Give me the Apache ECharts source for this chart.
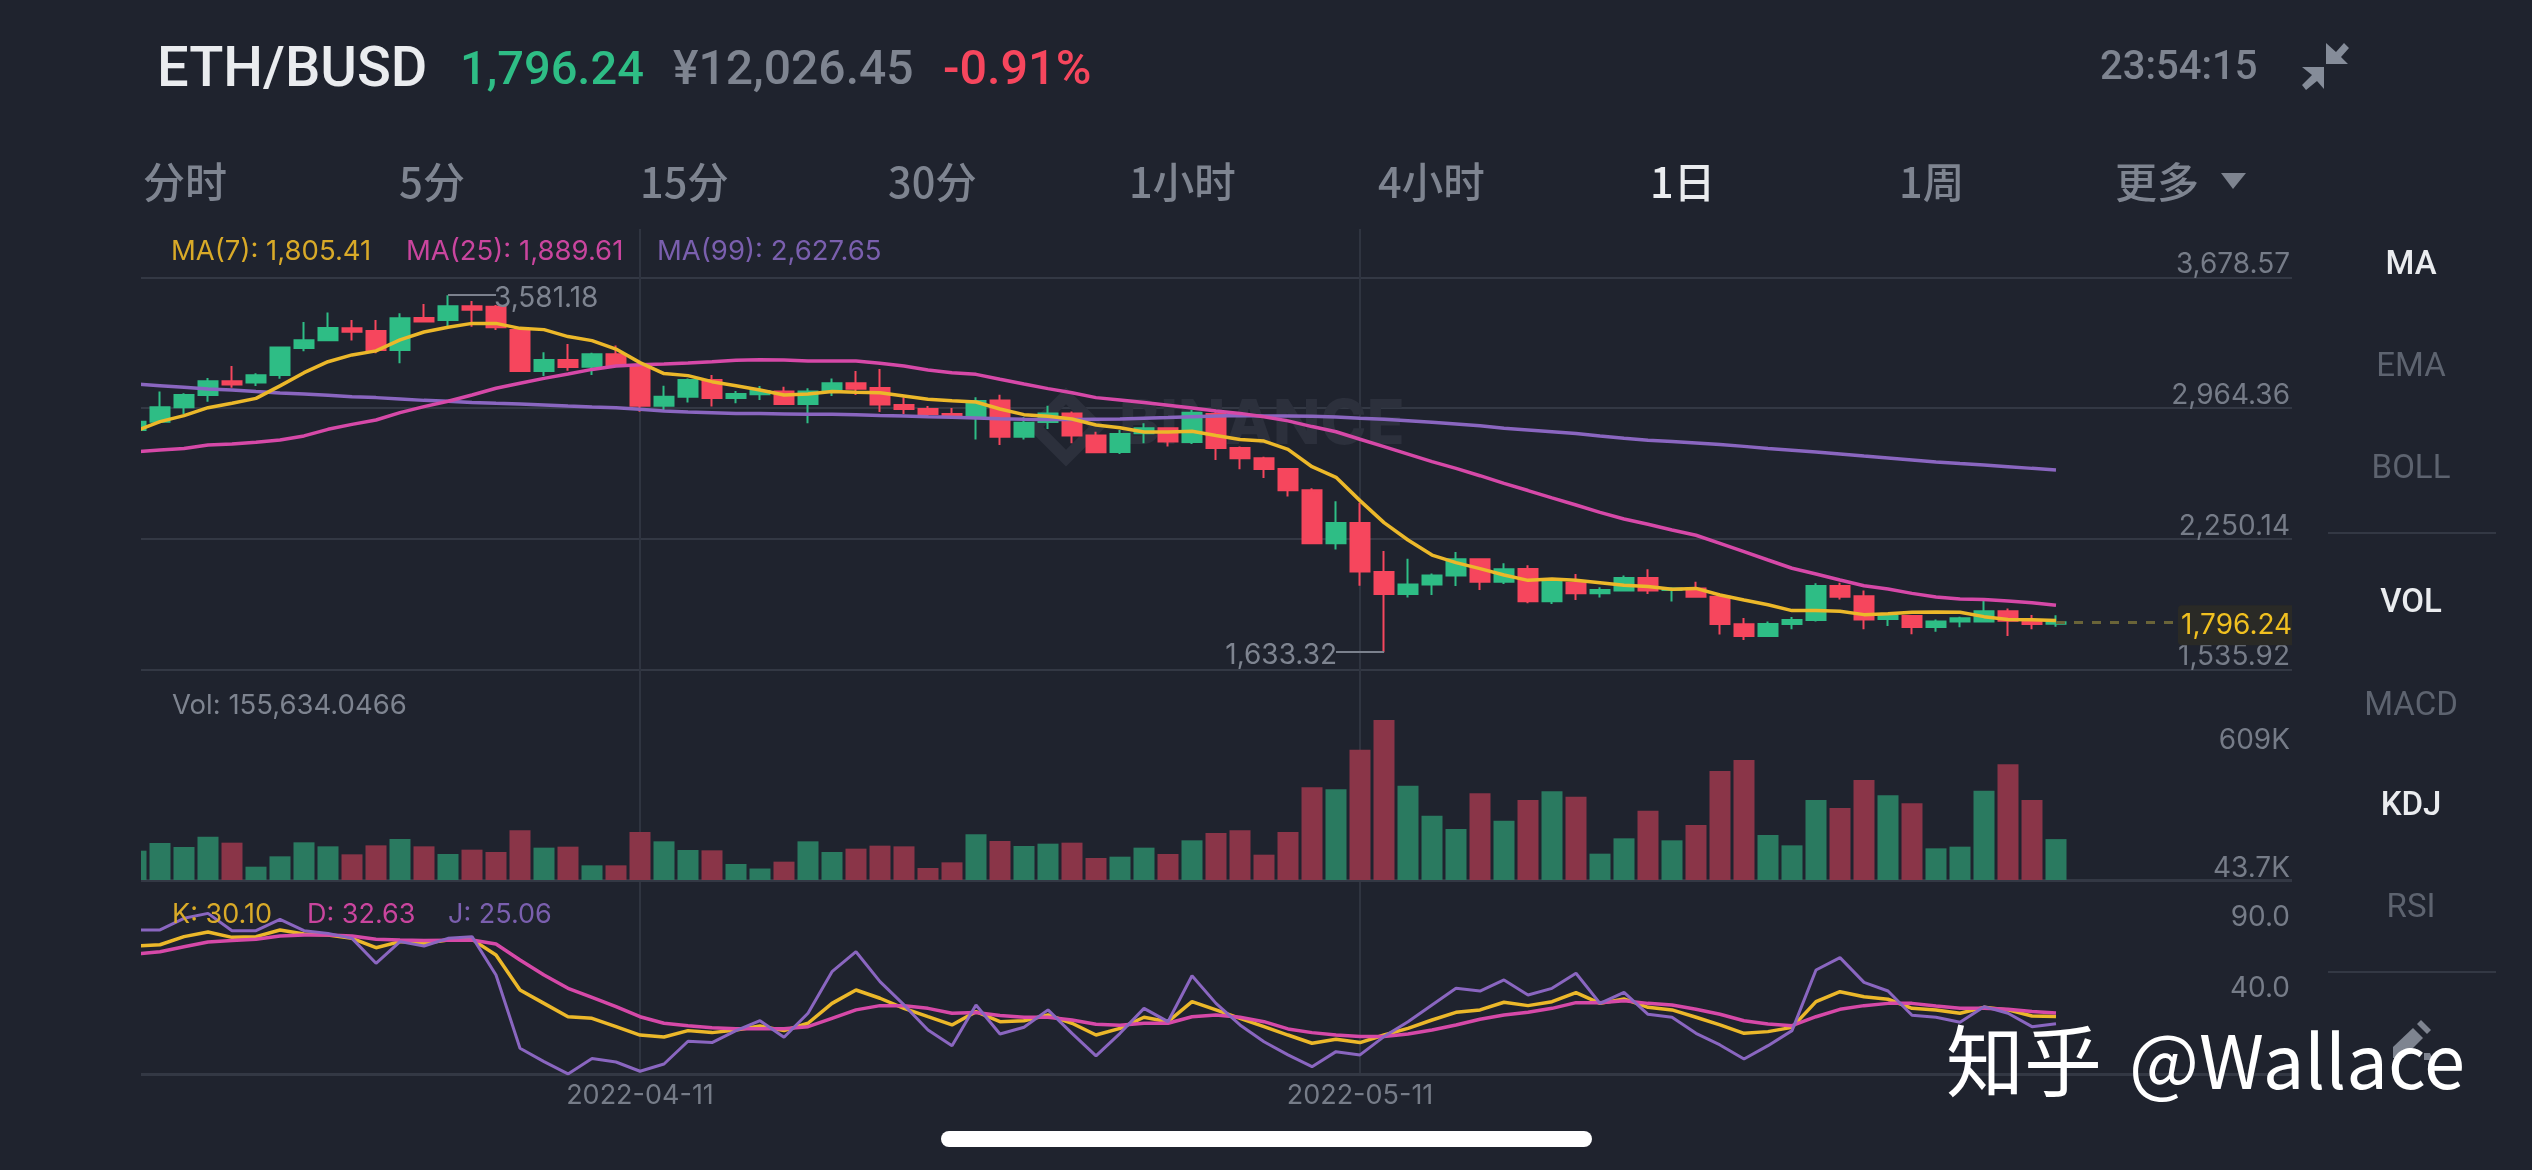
<!DOCTYPE html>
<html><head><meta charset="utf-8">
<style>html,body{margin:0;padding:0;background:#1f232e}#c{width:2532px;height:1170px}</style>
<script src="https://cdn.jsdelivr.net/npm/echarts@6/dist/echarts.min.js"></script>
</head><body><div id="c"></div>
<script>
const dates = ['2022-03-21','2022-03-22','2022-03-23','2022-03-24','2022-03-25','2022-03-26','2022-03-27','2022-03-28','2022-03-29','2022-03-30','2022-03-31','2022-04-01','2022-04-02','2022-04-03','2022-04-04','2022-04-05','2022-04-06','2022-04-07','2022-04-08','2022-04-09','2022-04-10','2022-04-11','2022-04-12','2022-04-13','2022-04-14','2022-04-15','2022-04-16','2022-04-17','2022-04-18','2022-04-19','2022-04-20','2022-04-21','2022-04-22','2022-04-23','2022-04-24','2022-04-25','2022-04-26','2022-04-27','2022-04-28','2022-04-29','2022-04-30','2022-05-01','2022-05-02','2022-05-03','2022-05-04','2022-05-05','2022-05-06','2022-05-07','2022-05-08','2022-05-09','2022-05-10','2022-05-11','2022-05-12','2022-05-13','2022-05-14','2022-05-15','2022-05-16','2022-05-17','2022-05-18','2022-05-19','2022-05-20','2022-05-21','2022-05-22','2022-05-23','2022-05-24','2022-05-25','2022-05-26','2022-05-27','2022-05-28','2022-05-29','2022-05-30','2022-05-31','2022-06-01','2022-06-02','2022-06-03','2022-06-04','2022-06-05','2022-06-06','2022-06-07','2022-06-08','2022-06-09'];
const futureSlots = ['','','','','','','','','',''];
const dateLabels = ['2022-04-11','2022-05-11'];
// [open, close, low, high]
const candles = [[2845,2891,2840,2895],[2891,2969,2882,3055],[2969,3036,2933,3046],[3036,3111,3000,3129],[3111,3093,3076,3195],[3104,3144,3086,3155],[3146,3296,3125,3300],[3293,3335,3275,3435],[3335,3402,3329,3486],[3400,3382,3333,3446],[3386,3282,3264,3446],[3282,3455,3209,3482],[3457,3438,3435,3533],[3446,3520,3413,3581.18],[3520,3502,3409,3549],[3518,3406,3391,3528],[3391,3167,3162,3406],[3167,3227,3140,3269],[3227,3189,3169,3315],[3191,3258,3146,3267],[3258,3200,3191,3307],[3198,2978,2945,3209],[2978,3027,2955,3087],[3027,3118,2995,3127],[3118,3020,2973,3146],[3020,3042,2991,3058],[3040,3058,3009,3086],[3055,2987,2984,3082],[2987,3055,2882,3073],[3055,3100,3031,3127],[3100,3071,3036,3167],[3075,2984,2944,3178],[2982,2960,2933,3024],[2960,2933,2922,2976],[2933,2920,2915,2965],[2920,3004,2794,3024],[3006,2809,2764,3038],[2809,2885,2794,2915],[2889,2935,2851,2978],[2936,2815,2773,2946],[2815,2724,2718,2836],[2725,2824,2714,2846],[2827,2855,2773,2882],[2855,2782,2755,2860],[2780,2940,2769,2955],[2933,2747,2682,2946],[2747,2691,2631,2755],[2691,2633,2584,2700],[2633,2516,2482,2638],[2516,2227,2225,2527],[2227,2338,2194,2456],[2338,2073,1996,2449],[2071,1951,1633.32,2185],[1951,2003,1932,2143],[2003,2051,1945,2063],[2051,2140,1994,2180],[2140,2018,1972,2145],[2018,2085,2005,2118],[2087,1911,1900,2107],[1911,2016,1896,2020],[2012,1954,1918,2060],[1954,1972,1932,1987],[1969,2038,1965,2052],[2038,1969,1951,2085],[1972,1981,1909,1987],[1981,1936,1932,2018],[1936,1787,1729,1940],[1785,1721,1700,1820],[1721,1787,1716,1801],[1787,1809,1758,1825],[1809,1994,1800,2009],[1994,1936,1921,2012],[1938,1812,1758,1969],[1814,1832,1776,1841],[1831,1771,1731,1836],[1771,1801,1745,1812],[1800,1818,1769,1827],[1801,1856,1796,1918],[1856,1805,1721,1872],[1805,1787,1758,1836],[1788,1796.24,1772,1834]];
const ma7 = [2840,2891,2924,2967,2991,3018,3086,3158,3218,3255,3277,3337,3380,3406,3427,3427,3400,3393,3355,3333,3287,3213,3153,3142,3109,3087,3064,3036,3042,3055,3051,3049,3031,3013,3005,2998,2960,2929,2920,2905,2873,2858,2834,2834,2838,2815,2794,2785,2740,2645,2587,2460,2340,2245,2163,2122,2089,2054,2025,2032,2025,2012,1998,1992,1976,1981,1945,1918,1892,1860,1860,1856,1838,1843,1851,1852,1851,1827,1812,1810,1805.41];
const ma25 = [2727,2736,2744,2764,2769,2778,2791,2813,2849,2876,2900,2940,2973,3002,3036,3073,3100,3127,3151,3176,3195,3202,3206,3211,3218,3226,3229,3227,3222,3222,3222,3209,3195,3173,3158,3149,3122,3096,3071,3049,3022,3009,2995,2980,2965,2949,2936,2918,2895,2864,2836,2795,2755,2714,2673,2636,2596,2554,2515,2475,2436,2396,2360,2331,2300,2271,2227,2182,2136,2091,2060,2027,1996,1978,1954,1934,1923,1920,1912,1903,1889.61];
const ma99 = [3096,3087,3078,3069,3064,3055,3047,3042,3035,3027,3022,3015,3007,3002,2996,2991,2987,2982,2976,2971,2967,2958,2949,2944,2940,2936,2935,2933,2931,2931,2929,2925,2922,2918,2915,2911,2907,2904,2902,2902,2904,2905,2909,2913,2918,2922,2924,2922,2922,2920,2916,2909,2904,2896,2887,2878,2869,2855,2846,2836,2826,2812,2800,2790,2782,2774,2766,2756,2745,2735,2725,2714,2703,2693,2682,2671,2662,2654,2645,2636,2627.65];
const volumes = [111.6,140.8,125.6,164.9,142.1,50.7,90.1,143.4,128.1,97.7,131.9,156,128.1,99,115.5,106.6,189,123.1,126.9,55.8,55.8,182.7,147.2,114.2,112.9,60.9,43.7,69.8,147.2,106.6,119.3,130.7,128.1,45.7,67.2,173.8,148.4,129.4,138.3,142.1,83.7,88.8,123.1,99,151,178.9,189,96.4,182.7,352.7,345.1,496.1,609,359,244.9,194.1,329.9,225.8,304.5,337.5,317.2,100.2,158.6,263.9,151,209.3,414.9,456.7,171.3,131.9,304.5,274,380.6,322.2,291.8,120.5,126.9,340,440.2,304.5,155.63];
const kdjK = [79.8,80.7,86.4,89.7,85.9,86.4,91.1,88.3,87.6,85.2,78.6,82.9,81.7,84,84.5,73.5,48.8,39.4,30,28.9,23,17.1,15.7,20.2,18.8,20.7,23.5,20.2,25.4,39.4,48.8,43,35.9,30,24.2,33.6,26.5,27.2,31.2,25.4,17.1,21.8,29.6,26.5,40.6,34.8,28.9,23,17.1,11.3,14.1,11.8,17.1,21.8,27.7,33.1,34.8,40.2,37.8,40.6,47,39.4,42.5,36.6,34.8,29.6,24.2,18.3,19.5,22.5,40.6,47.6,44.1,42.3,35.9,34.8,32.4,36.6,34.8,30.5,30.1];
const kdjD = [74.2,75.8,79.3,82.6,83.6,84.5,86.9,87.6,87.6,86.9,84.5,84,83.6,83.8,84,81.2,70,59.4,50,43.7,37.1,30,25.4,23.7,22.3,21.6,21.6,21.6,23,28.9,34.8,37.8,37.8,35.9,32.4,32.9,30.8,29.6,29.6,27.7,24.7,24,25.4,25.4,30,31.2,29.6,26.5,21.4,18.8,17.1,16,16,17.8,20.7,24.2,28.2,31.2,33.1,35.9,39.9,39.9,41.3,39.4,38.3,35.2,31.7,27.2,24.9,23.7,30,35.2,37.8,39.4,39.4,37.6,35.9,35.9,35.2,33.6,32.63];
const kdjJ = [91.1,91.1,99.3,102.8,90.6,90.6,98.6,90.6,88.7,85.2,67.6,82.9,79.8,85.2,86.4,59.4,7.8,-1.6,-10.3,0.5,-1.9,-8.4,-3.3,12.7,11.8,20.2,27.2,15.5,32.4,61.7,75.8,54.7,38.3,20.7,9.6,38.3,17.8,22.6,34.8,18.3,2.4,18.3,35.9,26.5,58.9,39.4,24.2,12.4,3.1,-5.2,5.4,3.1,16,26.5,38.3,50,48.1,55.9,45.3,50,60.6,39.4,47.2,31.7,29.6,18.3,10.1,0.2,9.6,20.2,62.9,71.6,54.2,48.1,31,29.6,26.1,37.1,32.4,23,25.06];
const priceTicks = [3678.57,2964.36,2250.14,1535.92];
const volTicks = [609,43.7];
const kdjTicks = [90,40];

const BG='#1f232e', GRID='#333844', VLINE='#2f3440', LABEL='#767c88', GREEN='#2ebd85', RED='#f6465d', VG='#2a7a60', VR='#8a3548';
const YEL='#ecb82a', PINK='#d649a8', PUR='#8a66c0', ICON='#858c99';
const NUM='Inter', CJK='"Noto Sans CJK SC"';
const fmtPrice = v => v.toLocaleString('en-US',{minimumFractionDigits:2,maximumFractionDigits:2});
const cats = dates.concat(futureSlots);
const L=124, W=24*cats.length;

function T(text,x,y,size,fill,o){o=o||{};return {type:'text',z:o.z||60,silent:true,style:Object.assign({text:text,x:x,y:y,fill:fill,fontSize:size,fontFamily:o.family||NUM,fontWeight:o.weight||400,align:o.align||'left',verticalAlign:'middle'},o.style||{})};}
function poly(points,fill,z){return {type:'polygon',z:z||60,silent:true,shape:{points:points},style:{fill:fill}};}

const xBase = gridIndex => ({type:'category',gridIndex:gridIndex,data:cats,boundaryGap:true,
  axisTick:{show:false},axisLabel:{show:false},axisPointer:{show:false},
  axisLine:{show:false,onZero:false},
  splitLine:{show:true,alignWithLabel:true,interval:(i,v)=>dateLabels.includes(v),lineStyle:{color:VLINE,width:2}}});
const line=(name,data,x,y,color,w)=>({name:name,type:'line',xAxisIndex:x,yAxisIndex:y,data:data,showSymbol:false,symbol:'none',smooth:false,lineStyle:{color:color,width:w},z:4,silent:true,animation:false});
const leader='#7b818d';

const option={
 animation:false,backgroundColor:BG,
 grid:[{left:L,width:W,top:229,height:441},{left:L,width:W,top:670,height:210},{left:L,width:W,top:880,height:194}],
 xAxis:[
  xBase(0),
  Object.assign(xBase(1),{axisLine:{show:true,onZero:false,lineStyle:{color:GRID,width:3}}}),
  Object.assign(xBase(2),{axisLine:{show:true,onZero:false,lineStyle:{color:GRID,width:3}},
    axisLabel:{show:true,interval:(i,v)=>dateLabels.includes(v),color:LABEL,fontSize:27,fontFamily:NUM,margin:8,hideOverlap:false}})
 ],
 yAxis:[
  {type:'value',gridIndex:0,position:'right',min:1535.92,max:3942,axisLine:{show:false},
   axisTick:{show:false,customValues:priceTicks},
   splitLine:{show:true,lineStyle:{color:GRID,width:2}},
   axisLabel:{inside:true,margin:18,customValues:priceTicks,formatter:fmtPrice,color:LABEL,fontSize:28,fontFamily:NUM,verticalAlign:'bottom',lineHeight:26}},
  {type:'value',gridIndex:1,position:'right',min:0,max:799.3,axisLine:{show:false},axisTick:{show:false,customValues:volTicks},splitLine:{show:false},
   axisLabel:{inside:true,margin:18,customValues:volTicks,color:LABEL,fontSize:28,fontFamily:NUM,
     formatter:v=>v===609?'{t|609K}':'{b|43.7K}',
     rich:{t:{padding:[41,0,0,0],color:LABEL,fontSize:28,fontFamily:NUM},b:{color:LABEL,fontSize:28,fontFamily:NUM}}}},
  {type:'value',gridIndex:2,position:'right',min:-10.35,max:126.3,axisLine:{show:false},axisTick:{show:false,customValues:kdjTicks},splitLine:{show:false},
   axisLabel:{inside:true,margin:18,customValues:kdjTicks,formatter:v=>v.toFixed(1),color:LABEL,fontSize:28,fontFamily:NUM,verticalAlign:'bottom',lineHeight:28}}
 ],
 series:[
  {name:'ETH/BUSD',type:'candlestick',xAxisIndex:0,yAxisIndex:0,data:candles,barWidth:19,z:3,silent:true,animation:false,
   itemStyle:{color:GREEN,color0:RED,borderColor:GREEN,borderColor0:RED,borderWidth:2},
   markLine:{silent:true,symbol:'none',animation:false,precision:2,
     label:{show:true,position:'end',color:'#7e8490',fontSize:28,fontFamily:NUM,distance:2,formatter:p=>p.name},
     lineStyle:{color:leader,width:2,type:'solid'},
     data:[
      [{name:'3,581.18',coord:[13,3581.18],label:{offset:[-4,3]}},{coord:[15,3581.18]}],
      [{name:'1,633.32',coord:[52,1633.32],label:{offset:[3,3]}},{coord:[50,1633.32]}],
      [{name:'1,796.24',coord:[80,1796.24],lineStyle:{color:'#6a6438',width:3,type:[9,9]},
        label:{color:'#f0c020',backgroundColor:'#2a2a26',padding:[6,3,6,3],borderRadius:4,distance:2,offset:[0,3]}},{coord:[85,1796.24]}]
     ]}},
  line('MA(99)',ma99,0,0,PUR,3.5),
  line('MA(25)',ma25,0,0,PINK,3.5),
  line('MA(7)',ma7,0,0,YEL,3.5),
  {name:'Vol',type:'bar',xAxisIndex:1,yAxisIndex:1,barWidth:21,animation:false,silent:true,
   data:volumes.map((v,i)=>({value:v,itemStyle:{color:candles[i][1]>=candles[i][0]?VG:VR}}))},
  line('K',kdjK,2,2,YEL,3.5),
  line('D',kdjD,2,2,PINK,3.5),
  line('J',kdjJ,2,2,PUR,3)
 ],
 graphic:{elements:[
  // faint exchange watermark behind the chart
  T('BINANCE',1119,425,62,'#2c303c',{weight:800,z:1}),
  {type:'rect',z:1,silent:true,x:1066,y:427,rotation:Math.PI/4,shape:{x:-22,y:-22,width:44,height:44},style:{fill:'none',stroke:'#2c303c',lineWidth:12}},
  // masks trimming the plot to its visible window
  {type:'rect',z:20,silent:true,shape:{x:0,y:225,width:141,height:856},style:{fill:BG}},
  {type:'rect',z:20,silent:true,shape:{x:2292,y:225,width:40,height:856},style:{fill:BG}},
  // header
  T('ETH/BUSD',157,68,56,'#eaecef',{family:'Roboto',weight:500,style:{y:72}}),
  T('1,796.24',460,72,47,GREEN,{family:'Roboto',weight:500}),
  T('¥12,026.45',673,72,48,'#7e8490',{family:'Roboto',weight:500}),
  T('-0.91%',943,72,48.5,RED,{family:'Roboto',weight:500}),
  T('23:54:15',2100,69,40,'#7e8490',{family:'Roboto',weight:500}),
  poly([[2326,43],[2326,64],[2348,64],[2341,57],[2349,48],[2344,43],[2336,52]],ICON),
  poly([[2324,67],[2324,89],[2317,81],[2306,90],[2302,85],[2312,75],[2302,67]],ICON),
  // period tabs
  T('分时',143,182,42,'#7e8490',{family:CJK,weight:500}),
  T('5分',399,182,42,'#7e8490',{family:CJK,weight:500}),
  T('15分',640,182,41.5,'#7e8490',{family:CJK,weight:500}),
  T('30分',888,182,41.5,'#7e8490',{family:CJK,weight:500}),
  T('1小时',1129,182,41.5,'#7e8490',{family:CJK,weight:500}),
  T('4小时',1378,182,41.5,'#7e8490',{family:CJK,weight:500}),
  T('1日',1650,182,41.5,'#eaecef',{family:CJK,weight:500}),
  T('1周',1899,182,41.5,'#7e8490',{family:CJK,weight:500}),
  T('更多',2115,182,42,'#7e8490',{family:CJK,weight:500}),
  poly([[2221,173],[2246,173],[2233,189]],'#7e8490'),
  // indicator read-outs
  T('MA(7): 1,805.41',171,252,27.5,'#d9aa28'),
  T('MA(25): 1,889.61',406,252,27.5,'#c9459e'),
  T('MA(99): 2,627.65',657,252,27.5,'#7a5fae'),
  T('Vol: 155,634.0466',172,706,27.5,'#7e8490'),
  T('K: 30.10',172,915,27,'#d9aa28'),
  T('D: 32.63',307,915,27,'#c9459e'),
  T('J: 25.06',448,915,27,'#7a5fae'),
  // right-hand menu
  T('MA',2411,266,33,'#eaecef',{align:'center',family:'Roboto',weight:500}),
  T('EMA',2411,368,33,'#5d636f',{align:'center',family:'Roboto'}),
  T('BOLL',2411,470,33,'#5d636f',{align:'center',family:'Roboto'}),
  {type:'rect',z:60,silent:true,shape:{x:2328,y:532,width:168,height:2},style:{fill:GRID}},
  T('VOL',2411,604,33,'#eaecef',{align:'center',family:'Roboto',weight:500}),
  T('MACD',2411,707,33,'#5d636f',{align:'center',family:'Roboto'}),
  T('KDJ',2411,807,33,'#eaecef',{align:'center',family:'Roboto',weight:500}),
  T('RSI',2411,909,33,'#5d636f',{align:'center',family:'Roboto'}),
  {type:'rect',z:60,silent:true,shape:{x:2328,y:971,width:168,height:2},style:{fill:GRID}},
  // pencil
  poly([[2393,1058],[2393,1047],[2413,1028],[2423,1038],[2403,1058]],'#7e8490'),
  poly([[2417,1024],[2421,1020],[2431,1030],[2427,1034]],'#7e8490'),
  poly([[2424,1053],[2430,1053],[2433,1060],[2424,1060]],'#7e8490'),
  // author watermark
  T('知乎',1946,1061,78,'#ffffff',{family:CJK,z:70,style:{shadowColor:'#0c0e14',shadowBlur:2,shadowOffsetX:4,shadowOffsetY:5}}),
  T('@Wallace',2129,1061,74,'#ffffff',{family:CJK,z:70,style:{shadowColor:'#0c0e14',shadowBlur:2,shadowOffsetX:4,shadowOffsetY:5}}),
  // home indicator
  {type:'rect',z:70,silent:true,shape:{x:941,y:1131,width:651,height:16,r:8},style:{fill:'#ffffff'}}
 ]}
};
const chart=echarts.init(document.getElementById('c'),null,{renderer:'canvas',width:2532,height:1170,devicePixelRatio:1});
chart.setOption(option);
</script></body></html>
